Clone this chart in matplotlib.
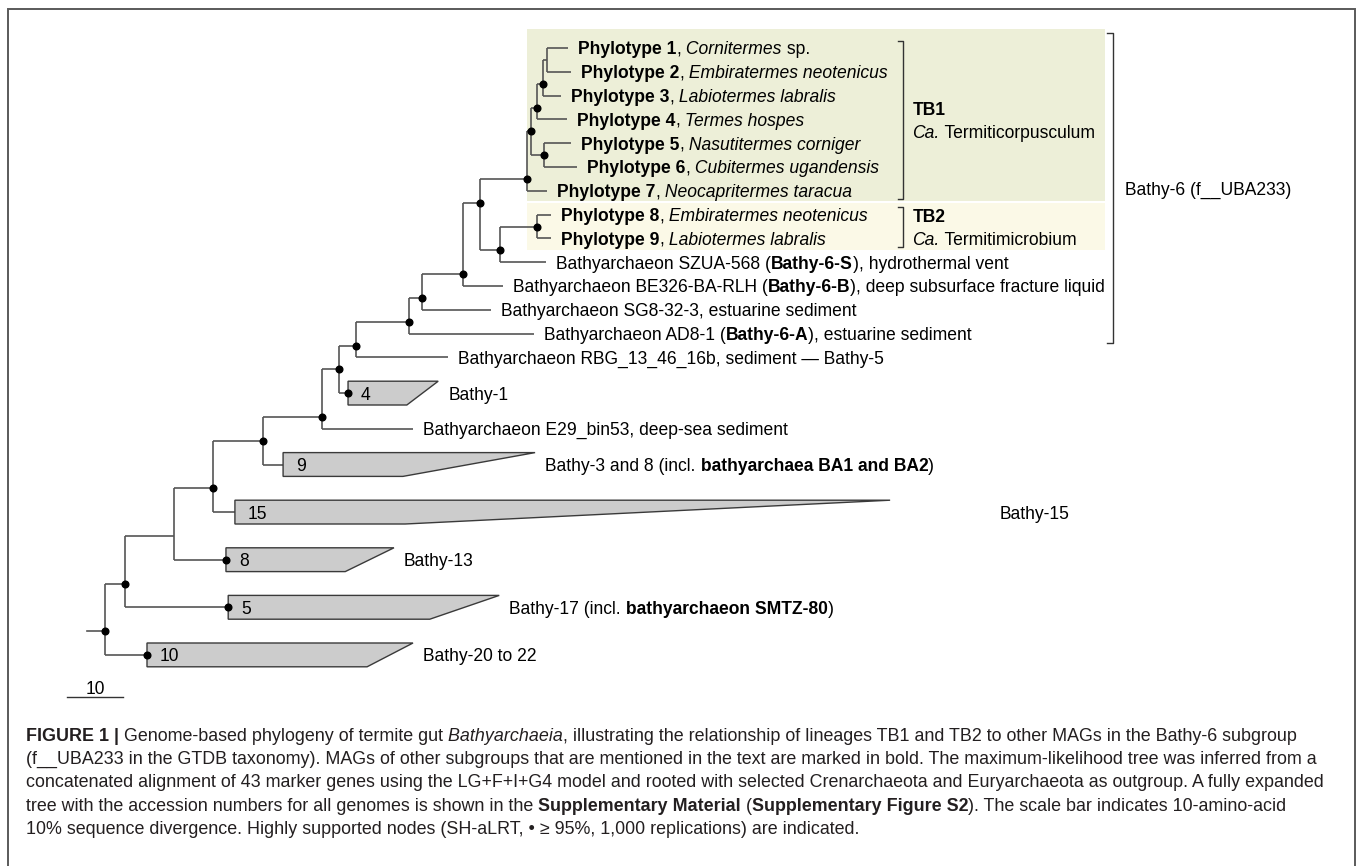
import matplotlib
matplotlib.use("Agg")
import matplotlib.pyplot as plt
import matplotlib.transforms as mtransforms
from matplotlib.patches import Rectangle, Polygon

plt.rcParams['font.family'] = ['Liberation Sans', 'DejaVu Sans']

N, B, I = "n", "b", "i"

# tree topology: parent -> [upper child, lower child]
children = {
    "root": ["n1", "B20"],
    "n1": ["n2", "B17"],
    "n2": ["n3", "B13"],
    "n3": ["n4", "B15"],
    "n4": ["n5", "B3"],
    "n5": ["n6", "E29"],
    "n6": ["n7", "B1"],
    "n7": ["n8", "RBG"],
    "n8": ["n9", "AD8"],
    "n9": ["n10", "SG8"],
    "n10": ["n11", "BE326"],
    "n11": ["TB1", "n12"],
    "n12": ["TB2", "SZUA"],
    "TB2": ["P8", "P9"],
    "TB1": ["t1", "P7"],
    "t1": ["t2", "t5"],
    "t2": ["t3", "P4"],
    "t3": ["t4", "P3"],
    "t4": ["P1", "P2"],
    "t5": ["P5", "P6"],
}

# distance from root (amino-acid substitutions, read against the scale bar)
node_depth = {
    "root": 0.0, "n1": 3.6, "n2": 12.3, "n3": 19.3, "n4": 28.2, "n5": 38.8,
    "n6": 41.8, "n7": 44.8, "n8": 54.3, "n9": 56.6, "n10": 63.9, "n11": 67.0,
    "n12": 70.5, "TB2": 77.1, "TB1": 75.4, "t1": 76.1, "t2": 77.1, "t3": 78.2,
    "t4": 78.9, "t5": 78.4,
}
tip_depth = {
    "P1": 82.7, "P2": 83.2, "P3": 81.4, "P4": 82.5, "P5": 83.2, "P6": 84.3,
    "P7": 78.9, "P8": 79.6, "P9": 79.6, "SZUA": 78.75, "BE326": 71.1,
    "SG8": 68.9, "AD8": 76.6, "RBG": 61.25, "E29": 55.0,
}
tip_labels = {
    "P1": [("Phylotype 1", B), (",", N), (" Cornitermes", I), (" sp.", N)],
    "P2": [("Phylotype 2", B), (",", N), (" Embiratermes neotenicus", I)],
    "P3": [("Phylotype 3", B), (",", N), (" Labiotermes labralis", I)],
    "P4": [("Phylotype 4", B), (",", N), (" Termes hospes", I)],
    "P5": [("Phylotype 5", B), (",", N), (" Nasutitermes corniger", I)],
    "P6": [("Phylotype 6", B), (",", N), (" Cubitermes ugandensis", I)],
    "P7": [("Phylotype 7", B), (",", N), (" Neocapritermes taracua", I)],
    "P8": [("Phylotype 8", B), (",", N), (" Embiratermes neotenicus", I)],
    "P9": [("Phylotype 9", B), (",", N), (" Labiotermes labralis", I)],
    "SZUA": [("Bathyarchaeon SZUA-568 (", N), ("Bathy-6-S", B), ("), hydrothermal vent", N)],
    "BE326": [("Bathyarchaeon BE326-BA-RLH (", N), ("Bathy-6-B", B),
              ("), deep subsurface fracture liquid", N)],
    "SG8": [("Bathyarchaeon SG8-32-3, estuarine sediment", N)],
    "AD8": [("Bathyarchaeon AD8-1 (", N), ("Bathy-6-A", B), ("), estuarine sediment", N)],
    "RBG": [("Bathyarchaeon RBG_13_46_16b, sediment \u2014 Bathy-5", N)],
    "E29": [("Bathyarchaeon E29_bin53, deep-sea sediment", N)],
}

# collapsed clades: genomes, stem depth, upper tip depth, lower tip depth
clades = {
    "B1": (4, 43.4, 59.5, 53.9),
    "B3": (9, 31.8, 76.8, 53.2),
    "B15": (15, 23.2, 140.2, 53.6),
    "B13": (8, 21.6, 51.6, 42.9),
    "B17": (5, 22.0, 70.4, 58.0),
    "B20": (10, 7.5, 55.0, 46.8),
}
clade_labels = {
    "B1": [("Bathy-1", N)],
    "B3": [("Bathy-3 and 8 (incl.", N), (" bathyarchaea BA1 and BA2", B), (")", N)],
    "B15": [("Bathy-15", N)],
    "B13": [("Bathy-13", N)],
    "B17": [("Bathy-17 (incl.", N), (" bathyarchaeon SMTZ-80", B), (")", N)],
    "B20": [("Bathy-20 to 22", N)],
}

# nodes with SH-aLRT >= 95%
supported = ["root", "n1", "n3", "n4", "n5", "n6", "n7", "n8", "n9", "n10", "n11",
             "n12", "TB2", "TB1", "t1", "t2", "t3", "t5", "B1", "B13", "B17", "B20"]

caption = [
    [("FIGURE 1 |", B), (" Genome-based phylogeny of termite gut", N), (" Bathyarchaeia", I),
     (", illustrating the relationship of lineages TB1 and TB2 to other MAGs in the Bathy-6 subgroup", N)],
    [("(f__UBA233 in the GTDB taxonomy). MAGs of other subgroups that are mentioned in the text are "
      "marked in bold. The maximum-likelihood tree was inferred from a", N)],
    [("concatenated alignment of 43 marker genes using the LG+F+I+G4 model and rooted with selected "
      "Crenarchaeota and Euryarchaeota as outgroup. A fully expanded", N)],
    [("tree with the accession numbers for all genomes is shown in the", N), (" Supplementary Material", B),
     (" (", N), ("Supplementary Figure S2", B), ("). The scale bar indicates 10-amino-acid", N)],
    [("10% sequence divergence. Highly supported nodes (SH-aLRT, \u2022 \u2265 95%, 1,000 replications) "
      "are indicated.", N)],
]

# layout constants (pixels)
W, H = 1358, 866
PX_UNIT = 5.6      # pixels per substitution unit
ROOT_PX = 105
ROW_PX = 23.8
ROW0_PX = 48
FS = 12.65
CAP_FS = 12.85
BASE = 0.27        # baseline offset (rows) so text is centred on its row
BRANCH = '#555555'

fig = plt.figure(figsize=(W / 100, H / 100), dpi=100)
ax = fig.add_axes([0, 0, 1, 1])
ax.set_xlim(-ROOT_PX / PX_UNIT, (W - ROOT_PX) / PX_UNIT)
ax.set_ylim((H - ROW0_PX) / ROW_PX, -ROW0_PX / ROW_PX)
ax.axis('off')
renderer = fig.canvas.get_renderer()


def rich(x, y, parts, size=FS, color='black', trans=None):
    trans = trans or ax.transData
    for text, st in parts:
        t = ax.text(x, y, text, transform=trans, fontsize=size, color=color,
                    fontweight='bold' if st == B else 'normal',
                    fontstyle='italic' if st == I else 'normal',
                    va='baseline', ha='left')
        w = t.get_window_extent(renderer).width
        trans = mtransforms.offset_copy(trans, x=w, units='dots')


# ---- row layout: node sits halfway between its two child groups
ypos, extent = {}, {}
cursor = [0.0]


def layout(name):
    if name in clades:
        top = cursor[0]
        ypos[name] = top + 0.5
        extent[name] = (top, top + 1)
        cursor[0] += 2
    elif name in tip_depth:
        ypos[name] = cursor[0]
        extent[name] = (cursor[0], cursor[0])
        cursor[0] += 1
    else:
        up, low = children[name]
        layout(up)
        layout(low)
        ypos[name] = (extent[up][1] + extent[low][0]) / 2
        extent[name] = (extent[up][0], extent[low][1])


layout("root")

# ---- highlight boxes for TB1 / TB2
box_right = 178.6
ax.add_patch(Rectangle((node_depth["TB1"], extent["TB1"][0] - 0.8),
                       box_right - node_depth["TB1"], extent["TB1"][1] - extent["TB1"][0] + 1.22,
                       facecolor='#edefd8', edgecolor='none', zorder=0))
ax.add_patch(Rectangle((node_depth["TB1"], extent["TB2"][0] - 0.5),
                       box_right - node_depth["TB1"], extent["TB2"][1] - extent["TB2"][0] + 1.0,
                       facecolor='#fbf9e7', edgecolor='none', zorder=0))

# ---- branches
for parent, kids in children.items():
    px = node_depth[parent]
    ax.plot([px, px], [ypos[kids[0]], ypos[kids[1]]], color=BRANCH, lw=1.2,
            solid_capstyle='butt', zorder=2)
    for k in kids:
        if k in node_depth:
            end = node_depth[k]
        elif k in tip_depth:
            end = tip_depth[k]
        else:
            end = clades[k][1]
        ax.plot([px, end], [ypos[k], ypos[k]], color=BRANCH, lw=1.2,
                solid_capstyle='butt', zorder=2)
ax.plot([-3.2, 0], [ypos["root"], ypos["root"]], color=BRANCH, lw=1.2, zorder=2)

# ---- collapsed clades
for name, (n, stem, up, low) in clades.items():
    top, bot = extent[name]
    ax.add_patch(Polygon([(stem, top), (up, top), (low, bot), (stem, bot)], closed=True,
                         facecolor='#cccccc', edgecolor='#3a3a3a', lw=1.0, zorder=2))
    ax.text(stem + 2.3, ypos[name] + BASE, str(n), fontsize=FS, va='baseline', ha='left', zorder=3)
    shift = 17.8 if name == "B15" else 0
    rich(up + 1.8 + shift, ypos[name] + BASE, clade_labels[name])

# ---- tip labels
for name, parts in tip_labels.items():
    rich(tip_depth[name] + 1.8, ypos[name] + BASE, parts)

# ---- support dots
for name in supported:
    x = node_depth[name] if name in node_depth else clades[name][1]
    ax.plot(x, ypos[name], 'o', color='black', ms=4.8, zorder=4)

# ---- brackets
def bracket(x, y0, y1, tick=0.9):
    ax.plot([x - tick, x, x, x - tick], [y0, y0, y1, y1], color='#333333', lw=1.0, zorder=2)


brk = 142.5
for name, title, genus in [("TB1", "TB1", "Termiticorpusculum"), ("TB2", "TB2", "Termitimicrobium")]:
    y0, y1 = extent[name][0] - 0.3, extent[name][1] + 0.35
    bracket(brk, y0, y1)
    mid = (extent[name][0] + extent[name][1]) / 2
    rich(brk + 1.7, mid - 0.2, [(title, B)])
    rich(brk + 1.7, mid + 0.78, [("Ca.", I), (" " + genus, N)])

b6x = 180.0
b6_top, b6_bot = extent["TB1"][0] - 0.63, ypos["AD8"] + 0.4
bracket(b6x, b6_top, b6_bot, tick=1.1)
rich(b6x + 2.1, (b6_top + b6_bot) / 2 + BASE, [("Bathy-6 (f__UBA233)", N)])

# ---- scale bar
sb_y = extent["root"][1] + 1.27
ax.plot([-6.8, 3.2], [sb_y, sb_y], color='#333333', lw=1.0)
ax.text(-1.8, sb_y - 0.12, "10", fontsize=FS, ha='center', va='baseline')

# ---- caption
for i, line in enumerate(caption):
    y = 1 - (741 + i * 23.2) / H
    rich(26 / W, y, line, size=CAP_FS, color='#231f20', trans=fig.transFigure)

# ---- frame
fig.add_artist(Rectangle((8 / W, -0.05), (1355 - 8) / W, 1.05 - 9 / H, transform=fig.transFigure,
                         fill=False, edgecolor='#5a5a5a', lw=1.4))

fig.savefig("out.png", dpi=100)
